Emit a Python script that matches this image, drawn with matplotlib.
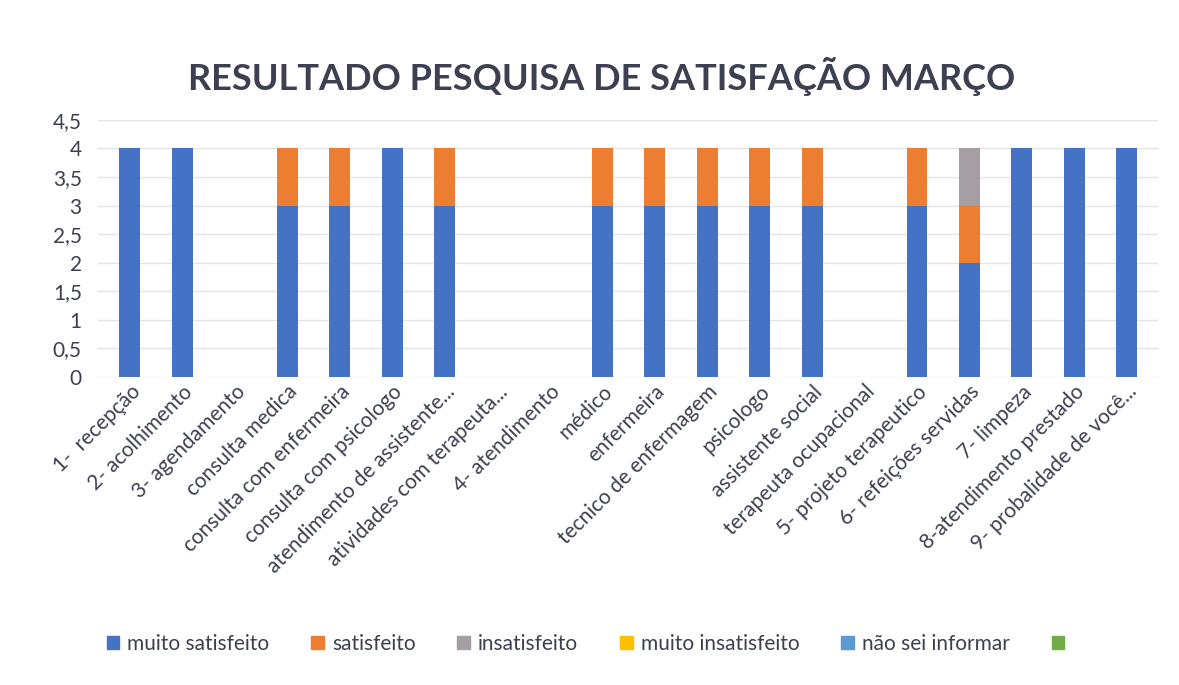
import matplotlib
matplotlib.use("Agg")
import matplotlib.pyplot as plt
from matplotlib.ticker import FuncFormatter, MultipleLocator
from matplotlib.patches import Patch
import numpy as np

plt.rcParams['font.family'] = ['Lato', 'DejaVu Sans']

categories = [
    "1-  recepção", "2- acolhimento", "3- agendamento", "consulta medica",
    "consulta com enfermeira", "consulta com psicologo",
    "atendimento de assistente...", "atividades com terapeuta...",
    "4- atendimento", "médico", "enfermeira", "tecnico de enfermagem",
    "psicologo", "assistente social", "terapeuta ocupacional",
    "5- projeto terapeutico", "6- refeições servidas", "7- limpeza",
    "8-atendimento prestado", "9- probalidade de você...",
]
muito_satisfeito   = [4, 4, 0, 3, 3, 4, 3, 0, 0, 3, 3, 3, 3, 3, 0, 3, 2, 4, 4, 4]
satisfeito         = [0, 0, 0, 1, 1, 0, 1, 0, 0, 1, 1, 1, 1, 1, 0, 1, 1, 0, 0, 0]
insatisfeito       = [0, 0, 0, 0, 0, 0, 0, 0, 0, 0, 0, 0, 0, 0, 0, 0, 1, 0, 0, 0]
muito_insatisfeito = [0] * 20
nao_sei_informar   = [0] * 20

series = [
    ("muito satisfeito", muito_satisfeito, "#4472C4"),
    ("satisfeito", satisfeito, "#ED7D31"),
    ("insatisfeito", insatisfeito, "#A59FA5"),
    ("muito insatisfeito", muito_insatisfeito, "#FFC000"),
    ("não sei informar", nao_sei_informar, "#5B9BD5"),
]

text_color = "#3c4050"

fig = plt.figure(figsize=(11.79, 6.85), dpi=100)
ax = fig.add_axes([0.0835, 0.45, 0.899, 0.375])

x = np.arange(len(categories))
bottom = np.zeros(len(categories))
for name, vals, col in series:
    v = np.array(vals, dtype=float)
    ax.bar(x, v, bottom=bottom, width=0.4, color=col, label=name, zorder=3)
    bottom += v

ax.set_ylim(0, 4.5)
ax.set_xlim(-0.6, len(categories) - 0.4)
ax.yaxis.set_major_locator(MultipleLocator(0.5))
ax.yaxis.set_major_formatter(FuncFormatter(lambda v, p: (f"{v:g}").replace(".", ",")))
ax.grid(axis="y", color="#e4e4e8", linewidth=1, zorder=0)
for s in ax.spines.values():
    s.set_visible(False)
ax.tick_params(axis="both", length=0, labelsize=15, colors=text_color)
ax.tick_params(axis="y", pad=12)
ax.set_xticks(x)
ax.set_xticklabels(categories, rotation=45, ha="right", rotation_mode="anchor")

fig.text(0.51, 0.888, "RESULTADO PESQUISA DE SATISFAÇÃO MARÇO",
         ha="center", va="center", fontsize=26, fontweight="bold", color=text_color)

handles = [Patch(color=c, label=n) for n, _, c in series]
handles.append(Patch(color="#70AD47", label=""))
fig.legend(handles=handles, loc="center", bbox_to_anchor=(0.5, 0.06), ncol=6,
           frameon=False, fontsize=15, handlelength=0.6, handleheight=0.6,
           columnspacing=2.0, handletextpad=0.4, labelcolor=text_color)

fig.savefig("out.png", dpi=100, facecolor="white")
